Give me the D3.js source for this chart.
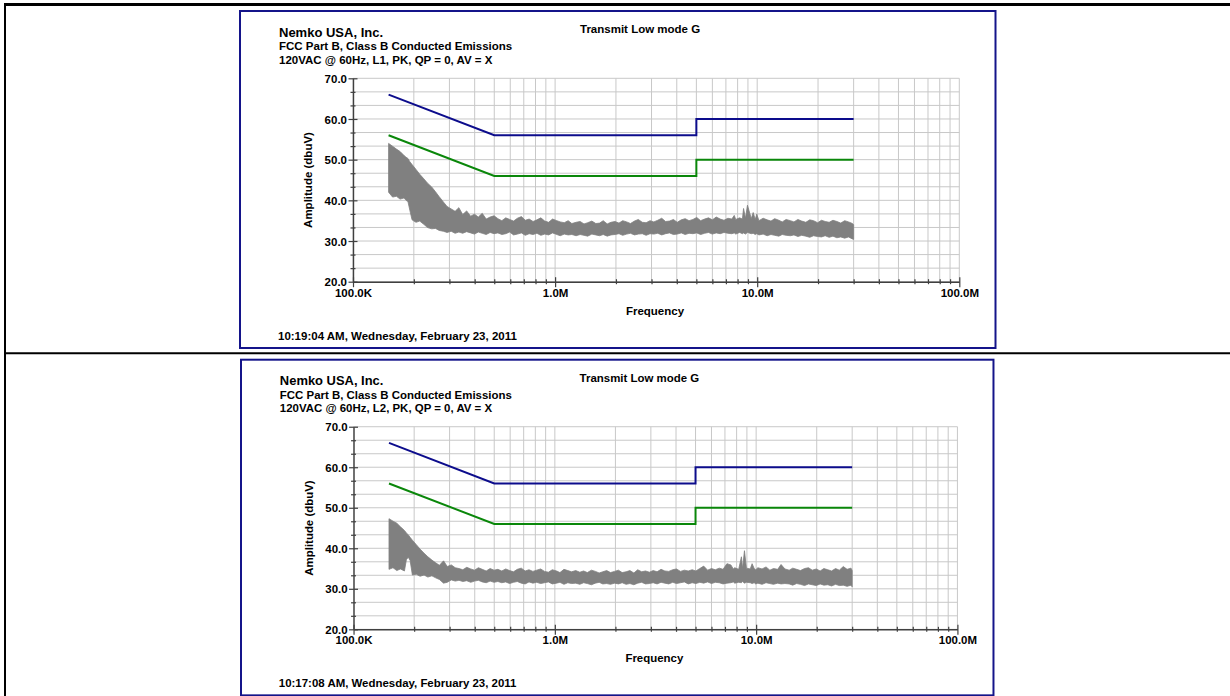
<!DOCTYPE html>
<html>
<head>
<meta charset="utf-8">
<style>
body {
  margin: 0;
  background: #fff;
}
</style>
</head>
<body>
<svg id="page" width="1230" height="696"></svg>
<script src="https://d3js.org/d3.v7.min.js"></script>
<script>

// frequency points of the sweep, MHz
var freqMHz = [
  0.150, 0.157, 0.164, 0.171, 0.179, 0.183, 0.187, 0.191, 0.196, 0.205,
  0.214, 0.224, 0.234, 0.245, 0.256, 0.267, 0.280, 0.292, 0.306, 0.320,
  0.334, 0.349, 0.365, 0.382, 0.399, 0.417, 0.436, 0.456, 0.477, 0.499,
  0.521, 0.545, 0.570, 0.596, 0.623, 0.651, 0.681, 0.712, 0.744, 0.778,
  0.813, 0.850, 0.889, 0.929, 0.971, 1.02, 1.06, 1.11, 1.16, 1.21,
  1.27, 1.33, 1.39, 1.45, 1.52, 1.59, 1.66, 1.73, 1.81, 1.89,
  1.98, 2.07, 2.16, 2.26, 2.36, 2.47, 2.58, 2.70, 2.82, 2.95,
  3.08, 3.22, 3.37, 3.52, 3.68, 3.85, 4.02, 4.21, 4.40, 4.60,
  4.81, 5.02, 5.25, 5.49, 5.74, 6.00, 6.27, 6.56, 6.85, 7.16,
  7.49, 7.70, 7.83, 8.19, 8.45, 8.56, 8.75, 8.95, 9.35, 9.55,
  9.78, 9.95, 10.2, 10.7, 11.2, 11.7, 12.2, 12.8, 13.3, 13.9,
  14.6, 15.2, 15.9, 16.6, 17.4, 18.2, 19.0, 19.9, 20.8, 21.7,
  22.7, 23.7, 24.8, 25.9, 27.1, 28.3, 29.6, 30.0
];

// L1 sweep, upper and lower edge of the peak trace (dBuV)
var peakL1 = [
  54.0, 53.3, 52.6, 52.0, 51.0, 50.6, 50.3, 49.5, 48.8, 47.6,
  46.4, 45.3, 44.2, 43.3, 42.1, 40.9, 39.6, 38.5, 37.9, 37.3,
  38.2, 36.5, 37.4, 36.1, 36.6, 35.9, 36.8, 35.4, 35.9, 36.2,
  35.5, 35.0, 35.7, 35.3, 34.9, 35.6, 36.0, 35.1, 35.4, 34.8,
  35.2, 35.7, 34.9, 34.6, 35.4, 35.0, 34.7, 34.5, 35.0, 34.3,
  34.6, 34.8, 34.2, 34.5, 34.9, 34.3, 34.4, 35.0, 34.2, 34.6,
  34.8, 34.4, 35.0, 34.7, 34.3, 34.9, 35.3, 34.6, 34.5, 35.0,
  34.7, 35.1, 35.6, 34.8, 34.9, 35.3, 34.6, 35.2, 35.5, 35.0,
  35.3, 35.8, 35.0, 35.4, 35.7, 35.2, 35.9, 35.4, 35.1, 35.6,
  35.4, 36.3, 35.3, 35.7, 35.4, 38.0, 35.6, 38.8, 35.5, 37.0,
  35.3, 36.6, 35.0, 35.6, 35.2, 34.9, 35.5, 35.1, 34.7, 35.3,
  35.0, 34.7, 35.3, 34.9, 34.6, 35.2, 35.0, 34.5, 35.1, 34.8,
  34.6, 35.1, 34.8, 34.4, 35.0, 34.7, 34.3, 34.0
];
var floorL1 = [
  42.0, 40.8, 41.0, 40.3, 40.6, 40.0, 39.7, 37.6, 35.2, 34.6,
  34.9, 34.1, 33.3, 33.0, 33.1, 32.6, 32.4, 32.1, 32.4, 31.9,
  32.2, 31.9, 32.3, 32.0, 31.7, 32.2, 31.9, 31.6, 32.1, 31.8,
  32.0, 31.6, 31.8, 32.2, 31.5, 31.7, 32.0, 31.4, 31.8, 31.6,
  31.9, 31.4, 31.7, 31.5, 32.0, 31.6, 31.3, 31.7, 31.5, 31.6,
  31.3, 31.6, 31.4, 31.2, 31.7, 31.5, 31.3, 31.6, 31.2, 31.5,
  31.6, 31.8, 31.4, 31.7, 31.9, 31.5, 31.7, 31.8, 31.4, 31.8,
  31.7, 31.9, 31.5, 31.8, 32.0, 31.6, 31.7, 32.0, 31.6, 31.9,
  31.8, 32.0, 31.6, 31.9, 32.1, 31.7, 32.0, 31.8, 32.1, 31.9,
  31.8, 32.0, 31.7, 32.1, 31.8, 32.0, 31.7, 32.1, 31.8, 31.9,
  31.6, 31.8, 31.5, 31.7, 31.3, 31.6, 31.4, 31.2, 31.6, 31.4,
  31.3, 31.5, 31.1, 31.4, 31.2, 30.9, 31.3, 31.1, 31.0, 31.3,
  30.9, 31.2, 30.8, 31.0, 30.7, 31.0, 30.5, 30.4
];

// L2 sweep
var peakL2 = [
  47.3, 46.7, 46.2, 45.3, 44.4, 43.8, 43.3, 42.7, 42.0, 40.9,
  39.8, 38.8, 37.9, 37.1, 36.4, 35.8, 36.9, 35.5, 35.9, 35.2,
  35.0, 34.7, 35.3, 34.9, 34.6, 35.2, 34.8, 34.4, 35.0, 34.6,
  34.8, 34.4, 34.9, 34.5, 34.2, 34.8, 35.1, 34.4, 34.7, 34.3,
  34.6, 34.9, 34.3, 34.1, 34.7, 34.4, 34.0, 34.8, 34.5, 34.2,
  34.5, 34.1, 34.4, 34.0, 34.6, 34.3, 33.9, 34.2, 34.5, 34.0,
  34.3, 34.6, 34.0, 34.2, 34.5, 33.9, 34.7, 34.2, 34.4, 34.1,
  34.5, 34.2, 34.8, 34.4, 34.3, 34.7, 34.9, 34.3, 34.6, 34.4,
  34.7, 34.4, 35.0, 35.6, 34.6, 35.0, 34.7, 35.1, 34.8, 36.2,
  35.9, 34.9, 35.2, 34.8, 37.9, 35.0, 39.4, 35.1, 34.9, 36.2,
  35.0, 34.7, 35.2, 34.9, 35.4, 34.6, 35.0, 34.8, 36.0, 34.9,
  34.6, 35.1, 34.8, 34.5, 35.0, 35.2, 34.6, 34.9, 34.4, 35.0,
  34.7, 34.4, 35.0, 34.6, 35.5, 34.8, 35.1, 34.5
];
var floorL2 = [
  34.8, 35.2, 34.5, 34.9, 34.4, 37.2, 37.8, 37.0, 33.4, 33.6,
  33.1, 33.4, 32.9, 33.2, 32.7, 32.3, 31.4, 31.6, 32.2, 31.9,
  32.1, 31.8, 32.0, 31.6, 31.9, 32.1, 31.7, 31.5, 31.9, 31.6,
  31.8, 31.5, 31.7, 31.3, 31.6, 31.8, 31.4, 31.2, 31.7, 31.4,
  31.6, 31.3, 31.5, 31.7, 31.2, 31.4, 31.6, 31.1, 31.5, 31.3,
  31.4, 31.1, 31.5, 31.3, 31.0, 31.4, 31.6, 31.2, 31.3, 31.1,
  31.4, 31.2, 31.5, 31.1, 31.3, 31.0, 31.4, 31.6, 31.2, 31.3,
  31.5, 31.2, 31.6, 31.4, 31.2, 31.6, 31.3, 31.5, 31.7, 31.2,
  31.5, 31.3, 31.6, 31.4, 31.7, 31.3, 31.6, 31.5, 31.2, 31.4,
  31.5, 31.7, 31.4, 31.6, 31.5, 31.8, 31.4, 31.6, 31.5, 31.3,
  31.5, 31.2, 31.4, 31.1, 31.5, 31.3, 31.1, 31.4, 31.2, 31.3,
  31.2, 30.9, 31.3, 31.1, 30.8, 31.2, 31.0, 30.8, 31.2, 30.9,
  31.0, 30.7, 31.1, 30.8, 30.9, 30.6, 30.9, 30.5
];

// FCC Class B conducted limits
var limitFreq = [0.15, 0.5, 5, 5, 30];
var qpLimit = [66, 56, 56, 60, 60];
var avLimit = [56, 46, 46, 50, 50];

// axis ticks
var xTicks = [0.1, 1, 10, 100];
var xTickLabels = ["100.0K", "1.0M", "10.0M", "100.0M"];
var yTicks = [20, 30, 40, 50, 60, 70];

var font = '"Liberation Sans", Arial, Helvetica, sans-serif';
var axisColor = "#404040";

var svg = d3.select("#page");

// page table rules
svg.append("line").attr("x1", 4).attr("x2", 1230).attr("y1", 4.5).attr("y2", 4.5)
    .attr("stroke", "#000").attr("stroke-width", 3);
svg.append("line").attr("x1", 5).attr("x2", 5).attr("y1", 3).attr("y2", 696)
    .attr("stroke", "#000").attr("stroke-width", 2);
svg.append("line").attr("x1", 4).attr("x2", 1230).attr("y1", 353.3).attr("y2", 353.3)
    .attr("stroke", "#000").attr("stroke-width", 2);

var xGrid = [];
[0.1, 1, 10].forEach(function(dec) {
  d3.range(1, 10).forEach(function(k) { xGrid.push(+(dec * k).toPrecision(3)); });
});
xGrid.push(100);
var yGrid = d3.range(16).map(function(i) { return 20 + i * 10 / 3; });

function isMajorX(d) {
  return xTicks.some(function(t) { return Math.abs(t - d) < 1e-6; });
}
function isMajorY(d) {
  return Math.abs(d - Math.round(d / 10) * 10) < 0.01;
}

function addText(g, str, x, y, size) {
  return g.append("text")
      .attr("x", x)
      .attr("y", y)
      .attr("font-family", font)
      .attr("font-weight", "bold")
      .attr("font-size", size)
      .attr("fill", "#000")
      .text(str);
}

function drawPanel(tx, ty, k, lineText, stampText, peak, floor) {
  var g = svg.append("g")
      .attr("transform", "translate(" + tx + "," + ty + ") scale(" + k + ")");

  g.append("rect")
      .attr("x", 0).attr("y", 0)
      .attr("width", 755.5).attr("height", 337)
      .attr("fill", "#fff")
      .attr("stroke", "#14148a")
      .attr("stroke-width", 2);

  var x = d3.scaleLog().domain([0.1, 100]).range([113, 719.3]);
  var y = d3.scaleLinear().domain([20, 70]).range([270.7, 67.3]);

  g.append("g").selectAll("line")
      .data(xGrid)
      .enter().append("line")
      .attr("x1", function(d) { return x(d); })
      .attr("x2", function(d) { return x(d); })
      .attr("y1", y(70))
      .attr("y2", y(20))
      .attr("stroke", "#c8c8c8")
      .attr("stroke-width", 1);

  g.append("g").selectAll("line")
      .data(yGrid)
      .enter().append("line")
      .attr("x1", x(0.1))
      .attr("x2", x(100))
      .attr("y1", function(d) { return y(d); })
      .attr("y2", function(d) { return y(d); })
      .attr("stroke", "#c8c8c8")
      .attr("stroke-width", 1);

  var trace = freqMHz.map(function(f, i) { return { f: f, hi: peak[i], lo: floor[i] }; });

  g.append("path")
      .datum(trace)
      .attr("d", d3.area()
          .x(function(d) { return x(d.f); })
          .y0(function(d) { return y(d.lo); })
          .y1(function(d) { return y(d.hi); }))
      .attr("fill", "#808080")
      .attr("stroke", "#808080")
      .attr("stroke-width", 0.8)
      .attr("stroke-linejoin", "miter");

  var limitLine = d3.line()
      .x(function(d) { return x(d[0]); })
      .y(function(d) { return y(d[1]); });

  g.append("path")
      .datum(limitFreq.map(function(f, i) { return [f, qpLimit[i]]; }))
      .attr("d", limitLine)
      .attr("fill", "none")
      .attr("stroke", "#0c0c8c")
      .attr("stroke-width", 2);

  g.append("path")
      .datum(limitFreq.map(function(f, i) { return [f, avLimit[i]]; }))
      .attr("d", limitLine)
      .attr("fill", "none")
      .attr("stroke", "#0a870a")
      .attr("stroke-width", 2);

  var xAxis = g.append("g")
      .attr("transform", "translate(0," + y(20) + ")")
      .call(d3.axisBottom(x)
          .tickValues(xGrid)
          .tickSizeInner(0)
          .tickSizeOuter(0)
          .tickFormat(function(d) {
            var i = xTicks.findIndex(function(t) { return Math.abs(t - d) < 1e-6; });
            return i < 0 ? "" : xTickLabels[i];
          }))
      .attr("font-size", null)
      .attr("font-family", null);
  xAxis.select(".domain").attr("stroke", axisColor).attr("stroke-width", 1.4);
  xAxis.selectAll(".tick line")
      .attr("y1", function(d) { return isMajorX(d) ? -4.5 : -2.5; })
      .attr("y2", function(d) { return isMajorX(d) ? 5.5 : 2.5; })
      .attr("stroke", axisColor)
      .attr("stroke-width", 1.2);
  xAxis.selectAll(".tick text")
      .attr("y", 15)
      .attr("dy", null)
      .attr("fill", "#000")
      .attr("font-family", font)
      .attr("font-weight", "bold")
      .attr("font-size", 11.5);

  var yAxis = g.append("g")
      .attr("transform", "translate(" + x(0.1) + ",0)")
      .call(d3.axisLeft(y)
          .tickValues(yGrid)
          .tickSizeInner(0)
          .tickSizeOuter(0)
          .tickFormat(function(d) {
            return isMajorY(d) && yTicks.indexOf(Math.round(d)) >= 0 ? d3.format(".1f")(Math.round(d)) : "";
          }))
      .attr("font-size", null)
      .attr("font-family", null);
  yAxis.select(".domain").attr("stroke", axisColor).attr("stroke-width", 1.4);
  yAxis.selectAll(".tick line")
      .attr("x1", function(d) { return isMajorY(d) ? -4.5 : -2.5; })
      .attr("x2", function(d) { return isMajorY(d) ? 4.5 : 2.5; })
      .attr("stroke", axisColor)
      .attr("stroke-width", 1.2);
  yAxis.selectAll(".tick text")
      .attr("x", -6)
      .attr("dy", "0.36em")
      .attr("fill", "#000")
      .attr("font-family", font)
      .attr("font-weight", "bold")
      .attr("font-size", 11.5);

  addText(g, "Nemko USA, Inc.", 39, 25.5, 13);
  addText(g, "FCC Part B, Class B Conducted Emissions", 39, 39, 11.5);
  addText(g, lineText, 39, 53, 11.5);
  addText(g, "Transmit Low mode G", 340, 22, 11.5);
  addText(g, "Frequency", 415, 304, 11.5).attr("text-anchor", "middle");
  addText(g, "Amplitude (dbuV)", 0, 0, 11.5)
      .attr("text-anchor", "middle")
      .attr("dy", "0.36em")
      .attr("transform", "translate(68,169) rotate(-90)");
  addText(g, stampText, 38, 329, 11.5);
}

drawPanel(240, 11, 1, "120VAC @ 60Hz, L1, PK, QP = 0, AV = X",
    "10:19:04 AM, Wednesday, February 23, 2011", peakL1, floorL1);
drawPanel(241, 359.7, 0.996, "120VAC @ 60Hz, L2, PK, QP = 0, AV = X",
    "10:17:08 AM, Wednesday, February 23, 2011", peakL2, floorL2);

</script>
</body>
</html>
